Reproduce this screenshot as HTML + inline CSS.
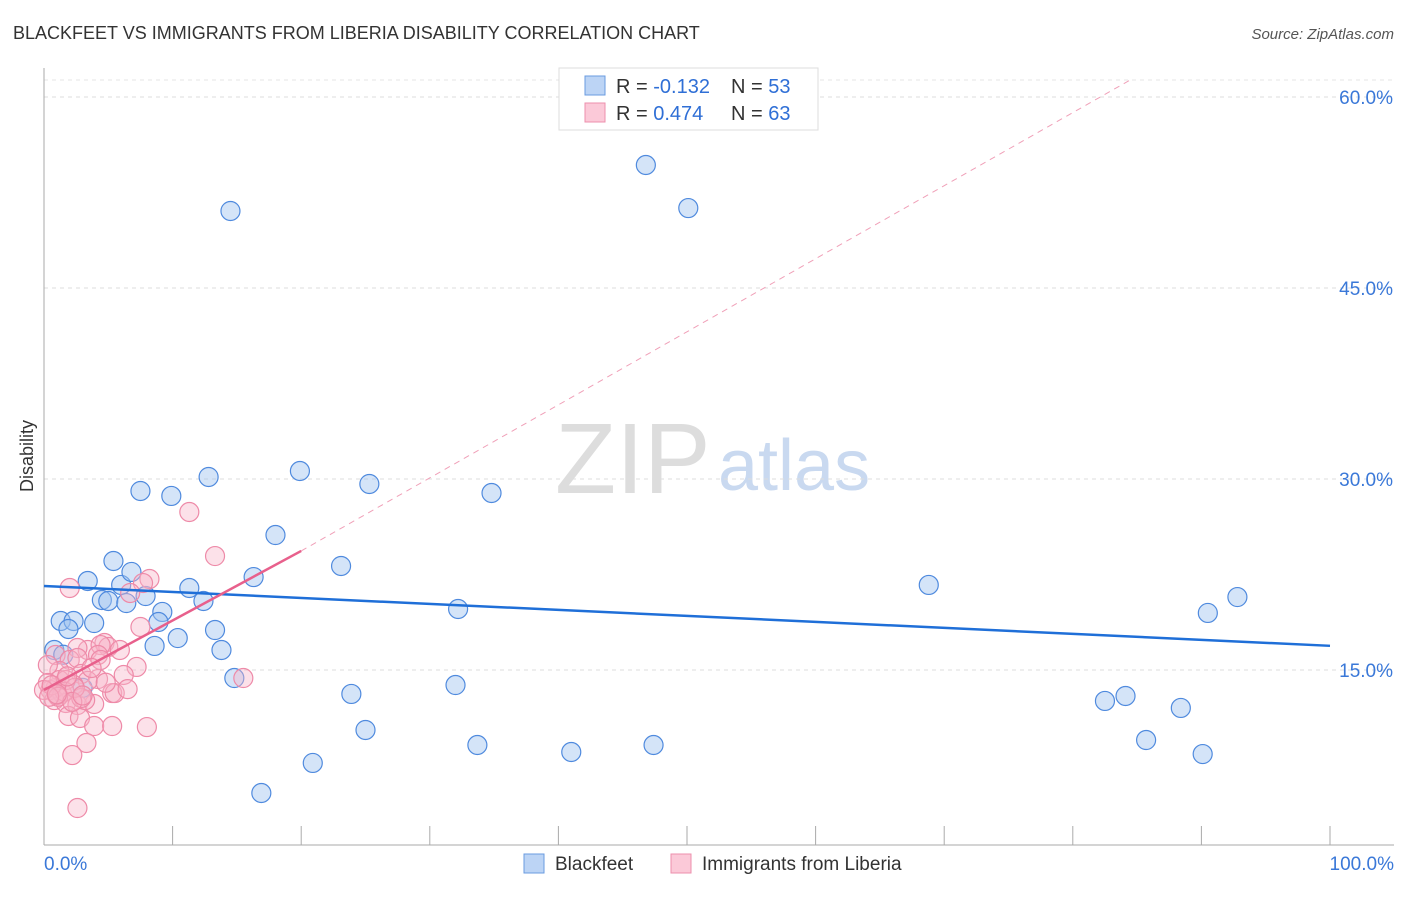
<!DOCTYPE html>
<html><head><meta charset="utf-8"><style>
body{margin:0;background:#fff;font-family:"Liberation Sans",sans-serif}
svg text{font-family:"Liberation Sans",sans-serif}
</style></head><body>
<svg id="chart" width="1406" height="892">
<text x="13" y="39" font-size="18" fill="#333">BLACKFEET VS IMMIGRANTS FROM LIBERIA DISABILITY CORRELATION CHART</text>
<text x="1394" y="39" font-size="15" fill="#555" font-style="italic" text-anchor="end">Source: ZipAtlas.com</text>
<text x="33" y="456" font-size="18" fill="#333" transform="rotate(-90 33 456)" text-anchor="middle">Disability</text>
<text x="555" y="493" font-size="100" fill="#ddd" font-family="Liberation Serif">ZIP</text>
<text x="718" y="490" font-size="72" fill="#c9d9f0">atlas</text>
<g id="grid"></g><g id="axes"></g><g id="marks"></g><g id="trends"></g>
<g>
<rect x="559" y="68" width="259" height="62" fill="#fff" stroke="#ddd"/>
<rect x="585" y="76" width="20" height="19" fill="#bcd4f5" stroke="#6a9be0"/>
<rect x="585" y="103" width="20" height="19" fill="#fbc9d8" stroke="#ec8fac"/>
<text x="616" y="93" font-size="20" fill="#333">R = <tspan fill="#2f6fd6">-0.132</tspan></text>
<text x="731" y="93" font-size="20" fill="#333">N = <tspan fill="#2f6fd6">53</tspan></text>
<text x="616" y="120" font-size="20" fill="#333">R = <tspan fill="#2f6fd6"> 0.474</tspan></text>
<text x="731" y="120" font-size="20" fill="#333">N = <tspan fill="#2f6fd6">63</tspan></text>
</g>
<g>
<rect x="524" y="854" width="20" height="19" fill="#bcd4f5" stroke="#6a9be0"/>
<text x="555" y="870" font-size="19" fill="#333">Blackfeet</text>
<rect x="671" y="854" width="20" height="19" fill="#fbc9d8" stroke="#ec8fac"/>
<text x="702" y="870" font-size="19" fill="#333">Immigrants from Liberia</text>
</g>
</svg>
<script>
const yTicks=[15,30,45,60];
const yTickLabels=["15.0%","30.0%","45.0%","60.0%"];
const xTickLabels=["0.0%","100.0%"];
const blueX=[14.5,46.8,50.1,7.5,9.9,12.8,19.9,25.3,34.8,18,5.4,3.4,6,6.8,7.9,11.3,16.3,23.1,4.5,5,6.4,12.4,9.2,8.9,1.3,2.3,3.9,1.9,10.4,8.6,13.3,13.8,0.8,32.2,68.8,90.5,92.8,14.8,23.9,32,25,82.5,84.1,88.4,33.7,41,47.4,85.7,90.1,20.9,16.9,1.5,3];
const blueY=[51.05,54.66,51.28,29.06,28.67,30.16,30.63,29.61,28.9,25.6,23.56,21.99,21.68,22.7,20.81,21.44,22.3,23.17,20.5,20.42,20.26,20.42,19.56,18.77,18.85,18.85,18.69,18.22,17.51,16.89,18.14,16.57,16.57,19.79,21.68,19.48,20.73,14.37,13.12,13.82,10.29,12.57,12.96,12.02,9.11,8.56,9.11,9.5,8.4,7.7,5.34,16.2,13.6];
const pinkX=[11.3,13.3,8.2,7.7,2,6.7,4.7,5,3.4,2.6,4.4,7.5,0.9,2,2.6,4.2,7.2,6.2,2.9,1.2,0.3,15.5,4.2,3.4,2.3,0.9,0.5,1.4,0.8,1.7,2.6,5.3,3.9,1.9,2.8,3.9,5.3,8,3.3,2.2,2.6,1.2,0.3,1.7,1,3.2,5.5,5.9,4.4,3.7,0,1.6,2.9,0.6,4.8,1.1,2.4,6.5,1.8,2.2,0.4,3,1];
const pinkY=[27.41,23.95,22.15,21.83,21.44,21.05,17.12,16.81,16.57,16.73,16.96,18.38,16.18,15.79,15.94,16.18,15.24,14.61,14.69,14.92,15.39,14.37,14.29,14.14,13.82,13.59,13.43,13.19,12.64,12.41,12.25,13.19,12.33,11.39,11.23,10.6,10.6,10.52,9.27,8.32,4.16,14.21,13.98,14.21,13.04,12.64,13.19,16.57,15.79,15.16,13.43,13.3,12.8,13.8,14.0,12.9,13.6,13.5,14.5,12.5,12.9,13.0,13.1];
const blueTrend=[21.6,16.9], pinkTrend=[13.43,24.35], pinkDashEnd=[84.4,61.3];
const NS='http://www.w3.org/2000/svg';
const xs=v=>44+v*12.86, ys=v=>861-v*12.733;
function mk(tag,attrs,parent){const e=document.createElementNS(NS,tag);for(const k in attrs)e.setAttribute(k,attrs[k]);document.getElementById(parent).appendChild(e);return e;}
yTicks.forEach((t,i)=>{
 const l=mk('line',{x1:44,x2:1394,y1:ys(t),y2:ys(t),stroke:'#ddd','stroke-dasharray':'4,4'},'grid');
 
 
 const tx=mk('text',{x:1393,y:ys(t)+7,'font-size':19,fill:'#3a78d8','text-anchor':'end'},'axes');tx.textContent=yTickLabels[i];
 
 
});
mk('line',{x1:44,x2:1394,y1:ys(60)-17,y2:ys(60)-17,stroke:'#e4e4e4','stroke-dasharray':'4,4'},'grid');
mk('line',{x1:44,x2:44,y1:68,y2:845,stroke:'#aaa'},'axes');
mk('line',{x1:44,x2:1394,y1:845,y2:845,stroke:'#aaa'},'axes');
for(let i=0;i<=10;i++){const t=mk('line',{x1:xs(i*10),x2:xs(i*10),y1:826,y2:845,stroke:'#aaa'},'axes');
 
 }
[[0,'start',44],[100,'end',1394]].forEach((a,i)=>{const tx=mk('text',{x:a[2],y:870,'font-size':19,fill:'#3a78d8','text-anchor':a[1]},'axes');tx.textContent=xTickLabels[i];
 
 });
blueX.forEach((x,i)=>{const c=mk('circle',{cx:xs(x),cy:ys(blueY[i]),r:9.5,fill:'rgba(160,195,240,0.45)',stroke:'#4f8ade','stroke-width':1.2},'marks');
 
 });
pinkX.forEach((x,i)=>{const c=mk('circle',{cx:xs(x),cy:ys(pinkY[i]),r:9.5,fill:'rgba(248,180,200,0.4)',stroke:'#ee8aa8','stroke-width':1.2},'marks');
 
 });
const bt=mk('line',{x1:xs(0),y1:ys(blueTrend[0]),x2:xs(100),y2:ys(blueTrend[1]),stroke:'#1f6fd8','stroke-width':2.5},'trends');


const pd=mk('line',{x1:xs(20),y1:ys(pinkTrend[1]),x2:xs(pinkDashEnd[0]),y2:ys(pinkDashEnd[1]),stroke:'#f0a0b8','stroke-width':1,'stroke-dasharray':'6,5'},'trends');


const pt=mk('line',{x1:xs(0),y1:ys(pinkTrend[0]),x2:xs(20),y2:ys(pinkTrend[1]),stroke:'#e8608c','stroke-width':2.5},'trends');


</script>
</body></html>
